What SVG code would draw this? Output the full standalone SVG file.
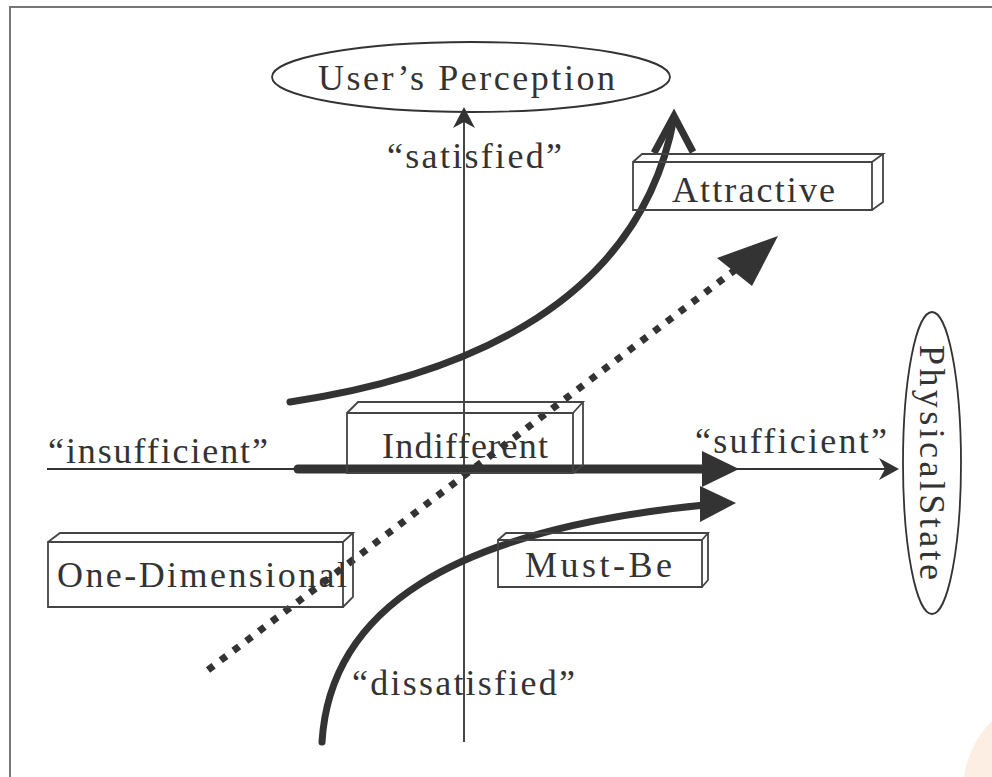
<svg xmlns="http://www.w3.org/2000/svg" width="992" height="777" viewBox="0 0 992 777">
<style>
.t{font-family:"Liberation Serif","DejaVu Serif",serif;font-size:36px;fill:#333}
.box{fill:none;stroke:#444;stroke-width:1.8;stroke-linejoin:miter}
.ell{fill:none;stroke:#333;stroke-width:1.8}
.axis{stroke:#333;stroke-width:1.8;fill:none}
.thick{stroke:#333;fill:none;stroke-linecap:round}
.head{fill:#333;stroke:none}
</style>
<rect width="992" height="777" fill="#fff"/>
<circle cx="1060" cy="790" r="97" fill="#fdeee3"/>
<path d="M9,7 H992 M10,7 V777" stroke="#777" stroke-width="2" fill="none"/>

<g id="connectors">
  <!-- axes -->
  <line class="axis" x1="464" y1="742" x2="464" y2="112"/>
  <path class="head" d="M464,107 L475,128 L464,122 L453,128 Z"/>
  <line class="axis" x1="47" y1="469" x2="893" y2="469"/>
  <path class="head" d="M899,469 L879,458 L885,469 L879,480 Z"/>
  <!-- dotted diagonal -->
  <line x1="208" y1="670" x2="735" y2="270" stroke="#333" stroke-width="7" stroke-dasharray="7 9"/>
  <path class="head" d="M778,236 L717,258 L752,286 Z"/>
  <!-- thick horizontal -->
  <line class="thick" x1="298" y1="469" x2="705" y2="469" stroke-width="9"/>
  <path class="head" d="M739,469 L702,451 L702,487 Z"/>
  <!-- attractive curve -->
  <path class="thick" d="M290,402 C470,375 640,300 674,118" stroke-width="7"/>
  <polyline points="654,153 674,116 693,152" fill="none" stroke="#333" stroke-width="7" stroke-linejoin="miter"/>
  <!-- must-be curve -->
  <path class="thick" d="M322,742 C330,610 450,530 705,505" stroke-width="7"/>
  <path class="head" d="M736,503 L700,486 L700,522 Z"/>
</g>

<g id="users-perception">
  <ellipse class="ell" cx="471" cy="77" rx="199" ry="35"/>
  <text class="t" x="318" y="90" textLength="297">User’s Perception</text>
</g>

<g id="physical-state">
  <ellipse class="ell" cx="932" cy="463" rx="29" ry="151"/>
  <text class="t" transform="translate(920,345) rotate(90)" x="0" y="0" textLength="235">PhysicalState</text>
</g>

<g id="attractive">
  <path class="box" d="M633,162 H872 V210 H633 Z M633,162 L642,154 H883 L872,162 M883,154 V202 L872,210"/>
  <text class="t" x="672" y="202" textLength="163">Attractive</text>
</g>

<g id="indifferent">
  <path class="box" d="M347,413 H573 V473 H347 Z M347,413 L358,402 H583 L573,413 M583,402 V465 L573,473"/>
  <text class="t" x="382" y="458" textLength="166">Indifferent</text>
</g>

<g id="one-dimensional">
  <path class="box" d="M48,542 H343 V607 H48 Z M48,542 L60,533 H353 L343,542 M353,533 V597 L343,607"/>
  <text class="t" x="57" y="587" textLength="290">One-Dimensional</text>
</g>

<g id="must-be">
  <path class="box" d="M498,540 H702 V587 H498 Z M498,540 L506,533 H708 L702,540 M708,533 V580 L702,587"/>
  <text class="t" x="525" y="577" textLength="147">Must-Be</text>
</g>

<g id="labels">
  <text class="t" x="387" y="168" textLength="175">“satisfied”</text>
  <text class="t" x="48" y="463" textLength="220">“insufficient”</text>
  <text class="t" x="695" y="453" textLength="192">“sufficient”</text>
  <text class="t" x="352" y="695" textLength="223">“dissatisfied”</text>
</g>
</svg>
